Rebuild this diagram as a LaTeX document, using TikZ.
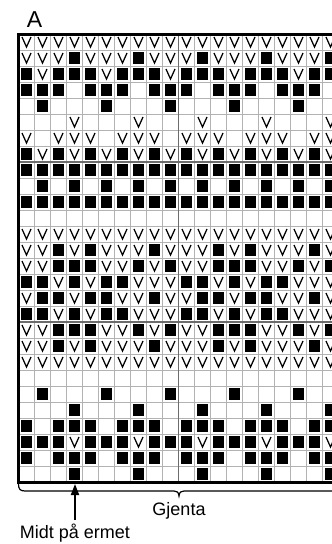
\documentclass[tikz,border=0pt]{standalone}
\usepackage{fontspec}
\setmainfont{Liberation Sans}
\usetikzlibrary{arrows.meta}
\tikzset{
  gridthin/.style={draw=gray!60, line width=0.8pt},
  gridthick/.style={draw=gray!85!black, line width=1.5pt},
  border/.style={draw=black, line width=3pt, line join=miter},
  vmark/.style={draw=black, line width=1.25pt, line join=miter},
  bracestyle/.style={draw=black, line width=1.2pt},
  lbl/.style={inner sep=0pt, font=\fontsize{18}{20}\selectfont}
}
\newcommand\kcRow[2]{\def\kcR{#1}\def\kcC{0}\kcNext#2\relax}
\def\kcNext#1{\ifx#1\relax\else\kcCell{#1}\expandafter\kcNext\fi}
\newcommand\kcCell[1]{%
  \pgfmathtruncatemacro\kcC{\kcC+1}%
  \pgfmathsetmacro\kcX{10.5+16*\kcC}%
  \pgfmathsetmacro\kcY{26+16*\kcR}%
  \if#1B\fill (\kcX-5.75,\kcY-5.75) rectangle ++(11.5,11.5);\fi
  \if#1V\draw[vmark] (\kcX-4.5,\kcY-5) -- (\kcX,\kcY+5) -- (\kcX+4.5,\kcY-5);\fi
}
\begin{document}
\begin{tikzpicture}[x=1pt,y=-1pt]
\useasboundingbox (0,0) rectangle (332,544);
\begin{scope}
\clip (0,0) rectangle (332,544);
% grid
\foreach \k in {0,...,20} \draw[gridthin] (18.5+16*\k,34) -- (18.5+16*\k,482);
\foreach \k in {0,...,28} \draw[gridthin] (18.5,34+16*\k) -- (340,34+16*\k);
\draw[gridthick] (178.5,34) -- (178.5,482);
\draw[gridthick] (18.5,162) -- (340,162);
\draw[gridthick] (18.5,322) -- (340,322);
% cells
\kcRow{1}{VVVVVVVVVVVVVVVVVVVV}
\kcRow{2}{VVVBVVVBVVVBVVVBVVVB}
\kcRow{3}{BVBBBVBBBVBBBVBBBVBB}
\kcRow{4}{BBB.BBB.BBB.BBB.BBB.}
\kcRow{5}{.B...B...B...B...B..}
\kcRow{6}{...V...V...V...V...V}
\kcRow{7}{V.VVV.VVV.VVV.VVV.VV}
\kcRow{8}{BVBVBVBVBVBVBVBVBVBV}
\kcRow{9}{BBBBBBBBBBBBBBBBBBBB}
\kcRow{10}{.B.B.B.B.B.B.B.B.B.B}
\kcRow{11}{BBBBBBBBBBBBBBBBBBBB}
\kcRow{13}{VVVVVVVVVVVVVVVVVVVV}
\kcRow{14}{VVBVBVVVBVVVBVBVVVBV}
\kcRow{15}{VVBBBVVBVBVVBBBVVBVB}
\kcRow{16}{BBVBVBBVVVBBVBVBBVVV}
\kcRow{17}{VBBVBBVVBVVBBVBBVVBV}
\kcRow{18}{BBVBVBBVVVBBVBVBBVVV}
\kcRow{19}{VVBBBVVBVBVVBBBVVBVB}
\kcRow{20}{VVBVBVVVBVVVBVBVVVBV}
\kcRow{21}{VVVVVVVVVVVVVVVVVVVV}
\kcRow{23}{.B...B...B...B...B..}
\kcRow{24}{...B...B...B...B...B}
\kcRow{25}{B.BBB.BBB.BBB.BBB.BB}
\kcRow{26}{BBBVBBBVBBBVBBBVBBBV}
\kcRow{27}{B.BBB.BBB.BBB.BBB.BB}
\kcRow{28}{...B...B...B...B...B}
% border
\draw[border] (345,34) -- (18.5,34) -- (18.5,482) -- (345,482);
% brace
\draw[bracestyle] (18.5,484) .. controls (18.5,489) and (20,491) .. (25,491)
  -- (174,491) .. controls (177,491) and (178.5,492) .. (179,496)
  .. controls (179.5,492) and (181,491) .. (184,491) -- (345,491);
\end{scope}
% labels
\node[lbl, font=\fontsize{23}{25}\selectfont, anchor=base] (A) at (34.5,27) {A};
\node[lbl, anchor=base] (gj) at (179,515) {Gjenta};
\node[lbl, anchor=base] (midt) at (75,538) {Midt på ermet};
\coordinate (arrS) at (75,520);
\coordinate (arrT) at (75,484);
\draw[line width=1.8pt, -{Triangle[length=11pt,width=8pt]}] (arrS) -- (arrT);
\end{tikzpicture}
\end{document}
